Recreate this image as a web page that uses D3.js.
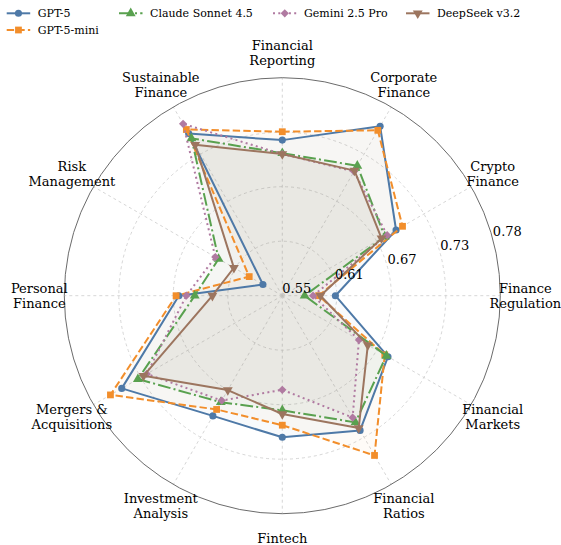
<!DOCTYPE html>
<html>
<head>
<meta charset="utf-8">
<script src="https://cdn.jsdelivr.net/npm/d3@7"></script>
<style>
  html, body { margin: 0; padding: 0; background: #ffffff; }
  svg { display: block; }
  text { font-family: "DejaVu Serif", "Liberation Serif", serif; fill: #000; }
</style>
</head>
<body>
<svg id="chart" width="561" height="545"></svg>
<script>
// ---- data ----
const categories = [
  "Financial\nReporting", "Corporate\nFinance", "Crypto\nFinance", "Finance\nRegulation",
  "Financial\nMarkets", "Financial\nRatios", "Fintech", "Investment\nAnalysis",
  "Mergers &\nAcquisitions", "Personal\nFinance", "Risk\nManagement", "Sustainable\nFinance"
];
const seriesNames = ["GPT-5", "GPT-5-mini", "Claude Sonnet 4.5", "Gemini 2.5 Pro", "DeepSeek v3.2"];
const gpt5       = [0.717, 0.760, 0.691, 0.607, 0.681, 0.717, 0.702, 0.699, 0.749, 0.661, 0.574, 0.751];
const gpt5mini   = [0.726, 0.755, 0.699, 0.589, 0.677, 0.748, 0.689, 0.691, 0.763, 0.664, 0.591, 0.756];
const claude     = [0.703, 0.711, 0.677, 0.574, 0.679, 0.707, 0.673, 0.682, 0.729, 0.644, 0.629, 0.745];
const gemini     = [0.702, 0.704, 0.680, 0.583, 0.645, 0.701, 0.651, 0.680, 0.718, 0.653, 0.633, 0.763];
const deepseek   = [0.702, 0.705, 0.673, 0.591, 0.656, 0.714, 0.677, 0.667, 0.722, 0.625, 0.610, 0.737];
const seriesValues = [gpt5, gpt5mini, claude, gemini, deepseek];
const radialTicks = [0.55, 0.6085, 0.667, 0.7255, 0.784];
const radialTickLabels = ["0.55", "0.61", "0.67", "0.73", "0.78"];
const radialDomain = [0.55, 0.784];

// ---- styles ----
const colors = ["#4e79a7", "#f28e2b", "#59a14f", "#b07aa1", "#9c755f"];
const dashes = [null, "7.4,3.2", "12.8,3.2,2,3.2", "2,3.3", null];
const markerTypes = ["circle", "square", "triangleUp", "diamond", "triangleDown"];
const serif = "DejaVu Serif";

const cx = 282.3, cy = 295.7, R = 218;
const svg = d3.select("#chart");

const r = d3.scaleLinear().domain(radialDomain).range([0, R]);
const angle = d3.scaleLinear().domain([0, categories.length]).range([0, 2 * Math.PI]);

const g = svg.append("g").attr("transform", `translate(${cx},${cy})`);

// grid rings
g.selectAll("circle.ring").data(radialTicks.slice(1, -1)).join("circle")
  .attr("class", "ring")
  .attr("r", d => r(d)).attr("fill", "none")
  .attr("stroke", "#cccccc").attr("stroke-width", 0.8).attr("stroke-dasharray", "3,3");

// spokes
g.selectAll("line.spoke").data(categories).join("line")
  .attr("class", "spoke")
  .attr("x1", 0).attr("y1", 0)
  .attr("x2", (d, i) => R * Math.sin(angle(i)))
  .attr("y2", (d, i) => -R * Math.cos(angle(i)))
  .attr("stroke", "#cccccc").attr("stroke-width", 0.8).attr("stroke-dasharray", "3,3");

// outer spine
g.append("circle").attr("r", R).attr("fill", "none")
  .attr("stroke", "#6b6b6b").attr("stroke-width", 1);

// fills
const radialLine = d3.lineRadial()
  .angle((d, i) => angle(i))
  .radius(d => r(d))
  .curve(d3.curveLinearClosed);

seriesValues.forEach((vals, s) => {
  g.append("path").attr("d", radialLine(vals))
    .attr("fill", colors[s]).attr("fill-opacity", 0.038).attr("stroke", "none");
});

function markerPath(type) {
  switch (type) {
    case "circle": return { d: d3.symbol(d3.symbolCircle, 40)(), rot: 0 };
    case "square": return { d: d3.symbol(d3.symbolSquare, 46)(), rot: 0 };
    case "triangleUp": return { d: d3.symbol(d3.symbolTriangle, 42)(), rot: 0 };
    case "triangleDown": return { d: d3.symbol(d3.symbolTriangle, 42)(), rot: 180 };
    case "diamond": return { d: d3.symbol(d3.symbolSquare, 34)(), rot: 45 };
  }
}

// lines and markers
seriesValues.forEach((vals, s) => {
  const sg = g.append("g");
  sg.append("path").attr("d", radialLine(vals))
    .attr("fill", "none").attr("stroke", colors[s]).attr("stroke-width", 2)
    .attr("stroke-dasharray", dashes[s]).attr("stroke-linejoin", "round");
  const m = markerPath(markerTypes[s]);
  sg.selectAll("path.mk").data(vals).join("path")
    .attr("class", "mk")
    .attr("d", m.d)
    .attr("transform", (d, i) => {
      const a = angle(i);
      return `translate(${r(d) * Math.sin(a)},${-r(d) * Math.cos(a)}) rotate(${m.rot})`;
    })
    .attr("fill", colors[s]);
});

// radial tick labels (at 75deg clockwise from top)
const rlabA = 75 * Math.PI / 180;
g.selectAll("text.rtick").data(radialTicks).join("text")
  .attr("class", "rtick")
  .attr("x", d => r(d) * Math.sin(rlabA))
  .attr("y", d => -r(d) * Math.cos(rlabA) - 3)
  .attr("font-family", serif)
  .attr("font-size", 13)
  .attr("text-anchor", "start")
  .text((d, i) => radialTickLabels[i]);

// category labels
const labR = 243, lineH = 15.2;
categories.forEach((c, i) => {
  const a = angle(i);
  const lines = c.split("\n");
  const x = labR * Math.sin(a), y = -labR * Math.cos(a);
  const t = g.append("text").attr("font-family", serif).attr("font-size", 13).attr("text-anchor", "middle");
  lines.forEach((ln, k) => {
    t.append("tspan").attr("x", x)
      .attr("y", y + (k - (lines.length - 1) / 2) * lineH + 4.6)
      .text(ln);
  });
});

// legend (4 columns, column-wise fill)
const legCols = [6.7, 119, 273, 406];
const legRows = [13.3, 30];
const ncol = 4, nrow = Math.ceil(seriesNames.length / ncol);
const leg = svg.append("g");
let idx = 0;
const colCounts = [];
for (let c = 0; c < ncol; c++) colCounts.push(c < seriesNames.length % ncol || seriesNames.length % ncol === 0 ? nrow : nrow - 1);
for (let c = 0; c < ncol; c++) {
  for (let rr = 0; rr < colCounts[c]; rr++) {
    const s = idx++;
    const x0 = legCols[c], y0 = legRows[rr];
    const lg = leg.append("g").attr("transform", `translate(${x0},${y0})`);
    lg.append("line").attr("x1", 0).attr("x2", 23.5).attr("y1", 0).attr("y2", 0)
      .attr("stroke", colors[s]).attr("stroke-width", 2).attr("stroke-dasharray", dashes[s]);
    const m = markerPath(markerTypes[s]);
    lg.append("path").attr("d", m.d)
      .attr("transform", `translate(11.75,0) rotate(${m.rot})`).attr("fill", colors[s]);
    lg.append("text").attr("x", 31).attr("y", 4).attr("font-family", serif).attr("font-size", 11).text(seriesNames[s]);
  }
}
</script>
</body>
</html>
